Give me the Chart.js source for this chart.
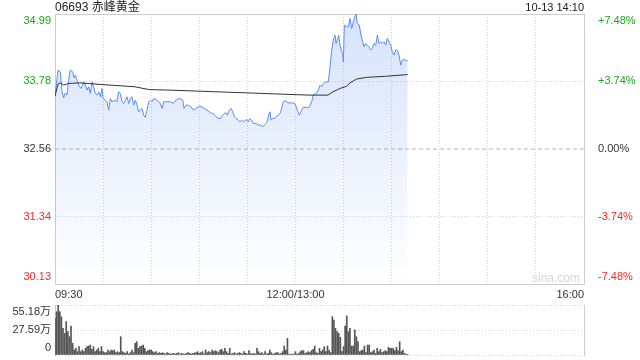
<!DOCTYPE html>
<html>
<head>
<meta charset="utf-8">
<script src="https://cdn.jsdelivr.net/npm/chart.js@4.4.0/dist/chart.umd.min.js"></script>
<style>
  html, body { margin: 0; padding: 0; background: #fff; }
  body { width: 640px; height: 360px; position: relative; overflow: hidden;
         font-family: "Liberation Sans", Arial, "Noto Sans CJK SC", sans-serif; }
  #title { position: absolute; left: 55px; top: 0; font-size: 12px; line-height: 14px; color: #222; }
  #stamp { position: absolute; right: 56px; top: 0; font-size: 11px; line-height: 14px; color: #222; }
  #mark { position: absolute; left: 532px; top: 271px; font-size: 12px; line-height: 14px; color: #d4d4d4; }
  canvas { position: absolute; left: 0; }
  #priceChart { top: 0; }
  #volChart { top: 296px; }
</style>
</head>
<body>
<canvas id="priceChart" width="640" height="300"></canvas>
<canvas id="volChart" width="640" height="64"></canvas>
<div id="title"></div>
<div id="stamp"></div>
<div id="mark">sina.com</div>
<script>
  const stockName = "06693 赤峰黄金";
  const stampText = "10-13 14:10";
  const prevClose = 32.56;
  const priceTicks = [30.13, 31.34, 32.56, 33.78, 34.99];
  const pctLabels = ["-7.48%", "-3.74%", "0.00%", "+3.74%", "+7.48%"];
  const timeTickMinutes = [0, 150, 330];
  const timeTickLabels = ["09:30", "12:00/13:00", "16:00"];

  // minutes since 09:30 (lunch break removed) and last price
  const priceMinutes = [0,1.9,3.3,4.4,5.4,6.4,7.5,8.5,9.5,11.0,11.9,12.7,13.7,15.2,16.4,17.9,18.9,20.0,21.0,22.0,
    23.1,24.1,25.1,26.2,27.3,28.3,29.3,29.9,31.4,32.4,33.5,34.5,35.6,37.6,38.7,39.7,40.7,41.8,42.9,43.9,
    44.9,46.0,47.0,48.0,49.1,50.1,51.2,52.2,53.2,54.3,55.3,56.3,57.4,58.5,59.5,60.5,61.6,63.6,64.7,65.7,
    66.8,67.8,69.9,71.9,73.8,75.9,78.0,79.7,80.5,81.7,83.2,84.7,86.3,88.0,90.0,92.1,94.2,96.3,97.8,98.8,
    100.4,101.9,103.4,104.6,105.6,106.7,107.5,108.7,109.8,110.9,111.9,112.9,114.3,115.4,116.5,117.5,118.5,119.6,120.6,121.6,
    122.7,123.7,125.4,126.8,128.3,129.6,130.6,131.6,132.4,133.5,134.1,134.7,135.8,136.8,137.9,139.3,140.4,141.4,142.4,143.5,
    145.5,147.7,149.7,151.2,152.4,153.9,154.9,157.0,158.6,160.1,161.1,162.8,164.3,165.3,166.4,167.4,169.1,170.5,171.6,172.6,
    173.6,174.7,175.3,176.1,177.0,177.8,178.9,179.5,179.9,180.5,182.0,183.0,184.0,185.1,186.1,187.1,187.8,188.6,189.8,190.9,
    191.9,192.8,193.8,194.8,195.9,196.9,197.9,199.0,200.1,201.1,202.1,203.2,204.2,205.2,206.3,207.3,208.4,209.4,210.4,211.5,
    212.5,213.5,214.6,215.7,216.7,217.7,219.4,220];
  const prices = [33.51,33.98,33.95,33.59,33.48,33.57,33.53,33.80,33.98,33.95,33.84,33.89,33.80,33.68,33.65,33.77,33.71,33.62,33.68,33.56,
    33.77,33.68,33.56,33.53,33.59,33.50,33.65,33.47,33.44,33.41,33.26,33.47,33.41,33.44,33.41,33.59,33.56,33.41,33.38,33.44,
    33.50,33.38,33.47,33.50,33.35,33.44,33.35,33.23,33.26,33.29,33.17,33.13,33.26,33.41,33.44,33.41,33.47,33.44,33.41,33.38,
    33.29,33.41,33.41,33.41,33.38,33.45,33.47,33.44,33.29,33.35,33.35,33.32,33.26,33.29,33.33,33.31,33.27,33.23,33.20,33.20,
    33.14,33.11,33.11,33.17,33.20,33.21,33.17,33.26,33.29,33.23,33.14,33.11,33.08,33.05,33.08,33.05,33.07,33.09,33.05,33.11,
    33.08,33.02,33.02,32.99,32.99,32.96,32.99,33.02,33.05,33.20,33.23,33.08,33.11,33.11,33.14,33.17,33.20,33.29,33.41,33.43,
    33.39,33.39,33.38,33.26,33.17,33.26,33.31,33.31,33.31,33.41,33.53,33.56,33.62,33.71,33.68,33.74,33.77,33.77,34.04,34.34,
    34.52,34.61,34.46,34.52,34.61,34.43,34.31,34.28,34.13,34.79,34.76,34.76,34.91,34.73,34.85,34.94,34.99,34.82,34.79,34.61,
    34.49,34.40,34.46,34.43,34.40,34.34,34.37,34.46,34.43,34.61,34.46,34.49,34.46,34.49,34.43,34.55,34.49,34.43,34.31,34.25,
    34.34,34.34,34.25,34.07,34.16,34.17,34.15,34.15];

  const avgMinutes = [0,1.9,3.3,5.4,8.5,15.6,29.3,49.9,58.5,71.7,119.6,158.5,170.3,173.4,177.8,182.0,184.0,188.2,194.5,206.9,220];
  const avgPrices = [33.51,33.73,33.75,33.71,33.74,33.75,33.72,33.68,33.63,33.62,33.57,33.53,33.53,33.59,33.65,33.69,33.75,33.82,33.85,33.87,33.90];

  // volume per minute, in 万
  const volumes = [40.5,47.8,55.18,47.8,42.3,29.4,23.9,36.8,25.8,20.2,
    32.0,12.9,5.5,7.4,3.7,9.2,3.7,5.5,3.7,7.4,
    9.2,9.9,11.0,6.3,9.2,3.7,5.5,7.4,3.7,9.2,
    3.7,2.6,2.6,5.5,3.7,5.5,4.8,5.5,2.6,3.7,
    2.6,20.2,3.7,2.6,1.8,3.7,1.1,2.6,5.5,2.6,
    12.9,14.7,7.4,9.2,9.9,11.0,7.4,3.7,4.8,5.5,
    5.5,3.7,2.6,3.7,1.8,2.6,1.8,2.6,1.8,1.1,
    2.6,1.8,1.1,1.4,1.8,1.1,1.8,2.6,1.1,1.8,
    1.1,1.1,1.8,2.6,1.8,1.1,1.8,2.2,2.6,3.7,
    1.8,2.6,3.7,1.4,5.5,2.6,3.7,2.6,5.5,3.7,
    4.8,3.7,2.6,5.5,6.3,3.7,7.4,3.7,1.8,
    7.4,1.1,1.8,2.6,1.1,1.8,2.6,1.8,1.1,3.7,
    1.8,1.1,4.8,1.8,1.1,1.8,1.1,7.4,3.7,1.8,
    2.6,1.1,3.7,1.1,1.8,5.5,2.6,1.1,1.8,2.6,
    2.6,1.1,1.8,3.7,9.9,5.5,18.4,1.1,0.4,1.1,
    1.1,3.7,1.1,1.8,3.7,4.8,4.8,1.8,2.6,3.7,
    2.6,4.8,6.3,9.9,2.6,1.8,7.4,3.7,5.5,9.2,
    3.7,9.9,5.5,2.6,
    42.3,38.6,29.4,25.8,23.9,19.5,3.7,9.2,32.0,43.1,
    25.8,29.4,9.9,9.9,27.6,20.2,14.7,3.7,4.8,5.5,
    9.9,2.6,11.0,11.0,2.6,3.7,5.5,1.8,7.4,3.7,
    6.3,2.6,3.7,4.8,3.7,8.5,7.4,7.4,7.4,4.8,
    8.5,4.8,14.7,3.7,5.5,1.8,1.1,0.4];
  const volTicks = [0, 27.59, 55.18];
  const volLabels = ["0", "27.59万", "55.18万"];

  document.getElementById("title").textContent = stockName;
  document.getElementById("stamp").textContent = stampText;

  Chart.defaults.font.family = '"Liberation Sans", Arial, "Noto Sans CJK SC", sans-serif';
  Chart.defaults.font.size = 11;
  Chart.defaults.color = "#333";

  const green = "#1ea51e";
  const red = "#f02c2c";
  const gridColor = "#d2d2d2";
  const frameColor = "#cccccc";

  // first label sits below the top line, last one above the bottom line
  function edgeLabel(text, index, count) {
    if (index === count - 1) return ["", text];
    if (index === 0) return [text, ""];
    return text;
  }

  function priceColor(v) {
    if (v > prevClose) return green;
    if (v < prevClose) return red;
    return "#333";
  }

  // keep the plot box where the layout padding puts it
  function fixWidth(w) {
    return (s) => { s.width = w; s.paddingTop = 0; s.paddingBottom = 0; };
  }

  const pricePoints = priceMinutes.map((t, i) => ({ x: t, y: prices[i] }));
  const avgPoints = avgMinutes.map((t, i) => ({ x: t, y: avgPrices[i] }));

  new Chart(document.getElementById("priceChart"), {
    type: "line",
    data: {
      datasets: [
        {
          data: pricePoints,
          borderColor: "#5a8ef2",
          borderWidth: 1,
          pointRadius: 0,
          tension: 0,
          fill: "start",
          order: 0,
          backgroundColor: (ctx) => {
            const area = ctx.chart.chartArea;
            if (!area) return "rgba(91,143,240,0.15)";
            const g = ctx.chart.ctx.createLinearGradient(0, area.top, 0, area.bottom);
            g.addColorStop(0, "rgba(91,143,240,0.25)");
            g.addColorStop(1, "rgba(91,143,240,0.0)");
            return g;
          }
        },
        {
          data: avgPoints,
          borderColor: "#333",
          borderWidth: 1,
          pointRadius: 0,
          tension: 0,
          fill: false,
          order: -1
        },
        {
          data: [{ x: 0, y: prevClose }, { x: 330, y: prevClose }],
          borderColor: "#b4b4b4",
          borderWidth: 1,
          borderDash: [4, 3],
          pointRadius: 0,
          fill: false,
          order: 1
        }
      ]
    },
    options: {
      responsive: false,
      animation: false,
      devicePixelRatio: 1,
      layout: { padding: { left: 0, right: 0, top: 14, bottom: 0 } },
      plugins: { legend: { display: false }, tooltip: { enabled: false } },
      scales: {
        x: {
          type: "linear",
          min: 0,
          max: 330,
          offset: false,
          grid: {
            drawTicks: false,
            color: (ctx) => (ctx.tick && (ctx.tick.value === 0 || ctx.tick.value === 330)) ? "transparent" : gridColor
          },
          border: { display: true, color: frameColor, dash: [1, 2] },
          ticks: {
            stepSize: 30,
            autoSkip: false,
            maxRotation: 0,
            align: "inner",
            padding: 4,
            color: "#333",
            callback: (value) => {
              const k = timeTickMinutes.indexOf(value);
              return k >= 0 ? timeTickLabels[k] : "";
            }
          },
          afterFit: (s) => { s.height = 16; s.paddingLeft = 0; s.paddingRight = 0; }
        },
        xTop: {
          type: "linear",
          position: "top",
          min: 0,
          max: 330,
          grid: { display: false },
          ticks: { display: false },
          border: { display: true, color: frameColor },
          afterFit: (s) => { s.height = 0; }
        },
        y: {
          position: "left",
          min: priceTicks[0],
          max: priceTicks[priceTicks.length - 1],
          afterBuildTicks: (s) => { s.ticks = priceTicks.map((v) => ({ value: v })); },
          grid: {
            drawTicks: false,
            color: (ctx) => {
              const v = ctx.tick ? ctx.tick.value : null;
              if (v === priceTicks[0] || v === priceTicks[priceTicks.length - 1] || v === prevClose) return "transparent";
              return gridColor;
            }
          },
          border: { display: true, color: frameColor, dash: [1, 2] },
          ticks: {
            autoSkip: false,
            padding: 4,
            color: (ctx) => priceColor(ctx.tick.value),
            callback: (value, index) => edgeLabel(value.toFixed(2), index, priceTicks.length)
          },
          afterFit: fixWidth(55)
        },
        yRight: {
          position: "right",
          min: priceTicks[0],
          max: priceTicks[priceTicks.length - 1],
          afterBuildTicks: (s) => { s.ticks = priceTicks.map((v) => ({ value: v })); },
          grid: { display: false },
          border: { display: true, color: frameColor },
          ticks: {
            autoSkip: false,
            padding: 6,
            color: (ctx) => priceColor(ctx.tick.value),
            callback: (value, index) => edgeLabel(pctLabels[index], index, pctLabels.length)
          },
          afterFit: fixWidth(56)
        }
      }
    }
  });

  const volPoints = volumes.map((v, i) => ({ x: i, y: v }));

  new Chart(document.getElementById("volChart"), {
    type: "bar",
    data: {
      datasets: [{
        data: volPoints,
        backgroundColor: "#555",
        borderWidth: 0,
        barThickness: 1
      }]
    },
    options: {
      responsive: false,
      animation: false,
      devicePixelRatio: 1,
      layout: { padding: { left: 0, right: 0, top: 9, bottom: 5 } },
      plugins: { legend: { display: false }, tooltip: { enabled: false } },
      scales: {
        x: {
          type: "linear",
          min: 0,
          max: 330,
          offset: false,
          display: false
        },
        y: {
          position: "left",
          min: 0,
          max: volTicks[volTicks.length - 1],
          afterBuildTicks: (s) => { s.ticks = volTicks.map((v) => ({ value: v })); },
          grid: { drawTicks: false, color: gridColor },
          border: { display: true, color: frameColor, dash: [1, 2] },
          ticks: {
            autoSkip: false,
            padding: 4,
            color: "#333",
            callback: (value, index) => edgeLabel(volLabels[index], index, volLabels.length)
          },
          afterFit: fixWidth(55)
        },
        yRight: {
          position: "right",
          min: 0,
          max: volTicks[volTicks.length - 1],
          grid: { display: false },
          ticks: { display: false },
          border: { display: true, color: frameColor },
          afterFit: fixWidth(56)
        }
      }
    }
  });
</script>
</body>
</html>
